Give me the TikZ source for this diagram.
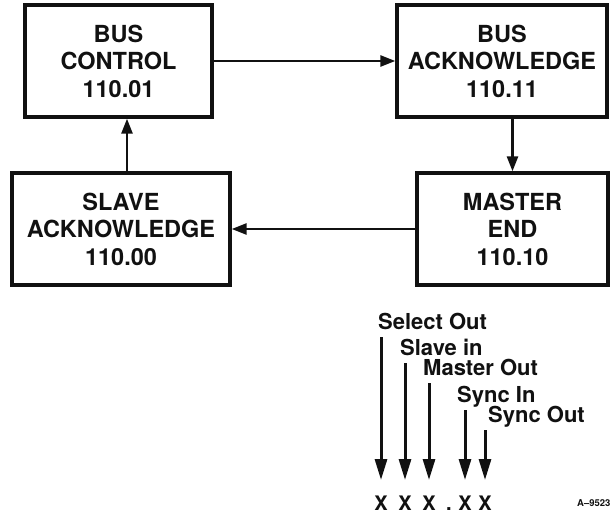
\documentclass[tikz,border=0pt]{standalone}
\usepackage{fontspec}
\setmainfont{TeX Gyre Heros}
\usepackage{tikz}
\usetikzlibrary{calc,arrows.meta,positioning}
\definecolor{inkx}{HTML}{111111}
\tikzset{
  blk/.style={draw=inkx,line width=3.4pt,align=center,inner sep=2pt,text=inkx,font=\bfseries\fontsize{23.5}{27.5}\selectfont},
  ar/.style={-{Triangle[length=15pt,width=11pt]},line width=2.6pt,inkx},
  sig/.style={-{Triangle[length=21pt,width=12pt]},line width=3pt,inkx},
  lab/.style={anchor=base west,inner sep=0pt,text=inkx,font=\bfseries\fontsize{22}{24}\selectfont},
  bitx/.style={anchor=base,inner sep=0pt,text=inkx,font=\bfseries\fontsize{20}{22}\selectfont}
}
\begin{document}
\begin{tikzpicture}[x=1pt,y=-1pt]
\useasboundingbox (0,0) rectangle (610,521);
% state boxes
\node[blk,minimum width=187pt,minimum height=112pt] (busctl) at (118.5,61) {BUS\\CONTROL\\110.01};
\node[blk,minimum width=210pt,minimum height=112pt] (busack) at (502,61) {BUS\\ACKNOWLEDGE\\110.11};
\node[blk,minimum width=218pt,minimum height=112pt] (slvack) at (121,229) {SLAVE\\ACKNOWLEDGE\\110.00};
\node[blk,minimum width=191pt,minimum height=112pt] (mstend) at (512.5,229) {MASTER\\END\\110.10};
\draw[ar] (busctl.east) -- (busack.west);
\draw[ar] (mstend.north |- busack.south) -- (mstend.north);
\draw[ar] (mstend.west) -- (slvack.east);
\draw[ar] ([xshift=6pt]slvack.north) -- ([xshift=6pt]slvack.north |- busctl.south);
% bit legend
\foreach \n/\xx in {1/381,2/405,3/429,4/465,5/485}{\node[bitx] (x\n) at (\xx,510) {X};}
\node[bitx] (dot) at (449,510) {.};
\foreach \n/\xx/\yy/\t in {1/378/329/Select Out,2/400/355/Slave in,3/423/375/Master Out,4/457/402/Sync In,5/488/422/Sync Out}{\node[lab] (lab\n) at (\xx,\yy) {\t};}
\foreach \n in {1,...,5}{\draw[sig] ($(x\n |- lab\n.base)+(0,8)$) -- ($(x\n.base)+(0,-30)$);}
\node[anchor=base west,inner sep=0pt,text=inkx,font=\bfseries\fontsize{9.5}{10}\selectfont] (fig) at (577,506) {A--9523};
\end{tikzpicture}
\end{document}
